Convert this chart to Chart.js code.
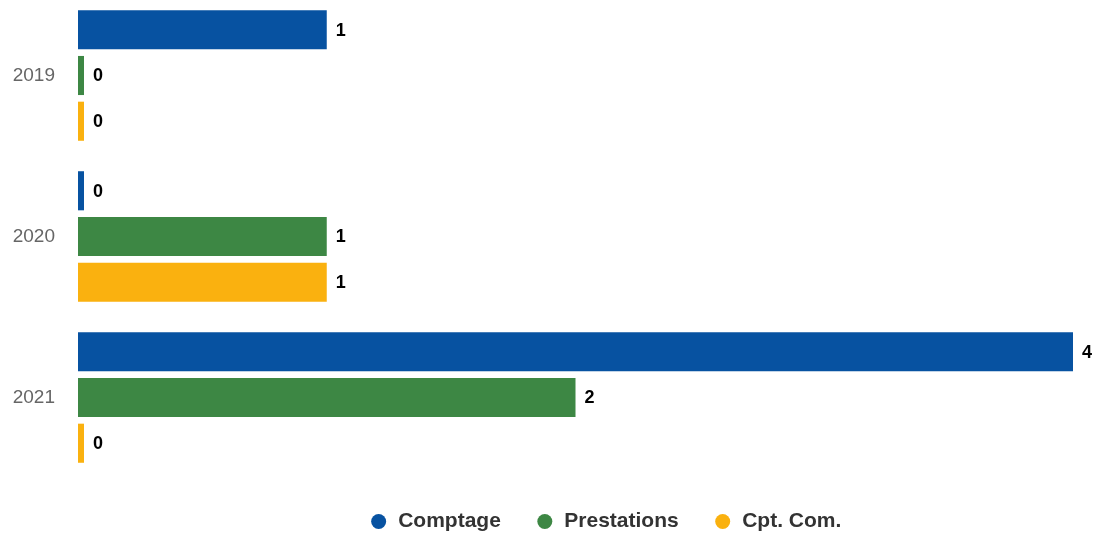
<!DOCTYPE html>
<html>
<head>
<meta charset="utf-8">
<script src="https://cdn.jsdelivr.net/npm/chart.js@4.4.1/dist/chart.umd.min.js"></script>
<style>
  html, body { margin: 0; padding: 0; background: #fff; }
  #wrap { width: 1100px; height: 534px; }
</style>
</head>
<body>
<div id="wrap"><canvas id="chart"></canvas></div>
<script>
// --- Données ---
const years = ["2019", "2020", "2021"];
const comptage = [1, 0, 4];
const prestations = [0, 1, 2];
const cptCom = [0, 1, 0];
const seriesNames = ["Comptage", "Prestations", "Cpt. Com."];
const seriesColors = ["#0752A1", "#3D8744", "#FAB10F"];

const FONT = "'Liberation Sans', Arial, Helvetica, sans-serif";

// valeurs au bout des barres
const valueLabels = {
    id: "valueLabels",
    afterDatasetsDraw(chart) {
        const ctx = chart.ctx;
        ctx.save();
        ctx.font = "bold 18px " + FONT;
        ctx.fillStyle = "#000";
        ctx.textAlign = "left";
        ctx.textBaseline = "middle";
        chart.data.datasets.forEach((ds, i) => {
            chart.getDatasetMeta(i).data.forEach((bar, j) => {
                ctx.fillText(String(ds.data[j]), bar.x + 9, bar.y + 1);
            });
        });
        ctx.restore();
    }
};

// mise en page : légende plus basse et décalée, zone du graphe remontée
const layoutTweak = {
    id: "layoutTweak",
    beforeLayout(chart) {
        const lg = chart.legend;
        if (lg && !lg._patched) {
            const fit = lg.fit;
            lg.fit = function () { fit.call(this); this.height = 56; };
            lg._patched = true;
        }
    },
    afterLayout(chart) {
        const lg = chart.legend;
        lg.left += 69; lg.right += 69;
        lg.top -= 2; lg.bottom -= 2;
        const y = chart.scales.y;
        y.top -= 5;
        y.configure();
        chart.chartArea.top -= 5;
    }
};

const datasets = [comptage, prestations, cptCom].map((data, i) => ({
    label: seriesNames[i],
    data: data,
    backgroundColor: seriesColors[i],
    borderWidth: 0,
    minBarLength: 6,
    categoryPercentage: 0.852,
    barPercentage: 0.855
}));

new Chart(document.getElementById("chart"), {
    type: "bar",
    data: { labels: years, datasets: datasets },
    options: {
        indexAxis: "y",
        responsive: true,
        maintainAspectRatio: false,
        animation: false,
        layout: { padding: { top: 0, right: 27, bottom: 0, left: 0 } },
        scales: {
            x: { display: false, min: 0, max: 4 },
            y: {
                grid: { display: false, drawTicks: false },
                border: { display: false },
                ticks: { color: "#666", padding: 23, font: { family: FONT, size: 19 } },
                afterFit: (scale) => {
                    scale.width = 78;
                    scale.paddingTop = 0;
                    scale.paddingBottom = 0;
                }
            }
        },
        plugins: {
            legend: {
                position: "bottom",
                labels: {
                    usePointStyle: true,
                    pointStyle: "circle",
                    boxWidth: 18,
                    boxHeight: 10.6,
                    padding: 35,
                    color: "#333",
                    font: { family: FONT, size: 21, weight: "bold" }
                }
            },
            tooltip: { enabled: false }
        }
    },
    plugins: [valueLabels, layoutTweak]
});
</script>
</body>
</html>
